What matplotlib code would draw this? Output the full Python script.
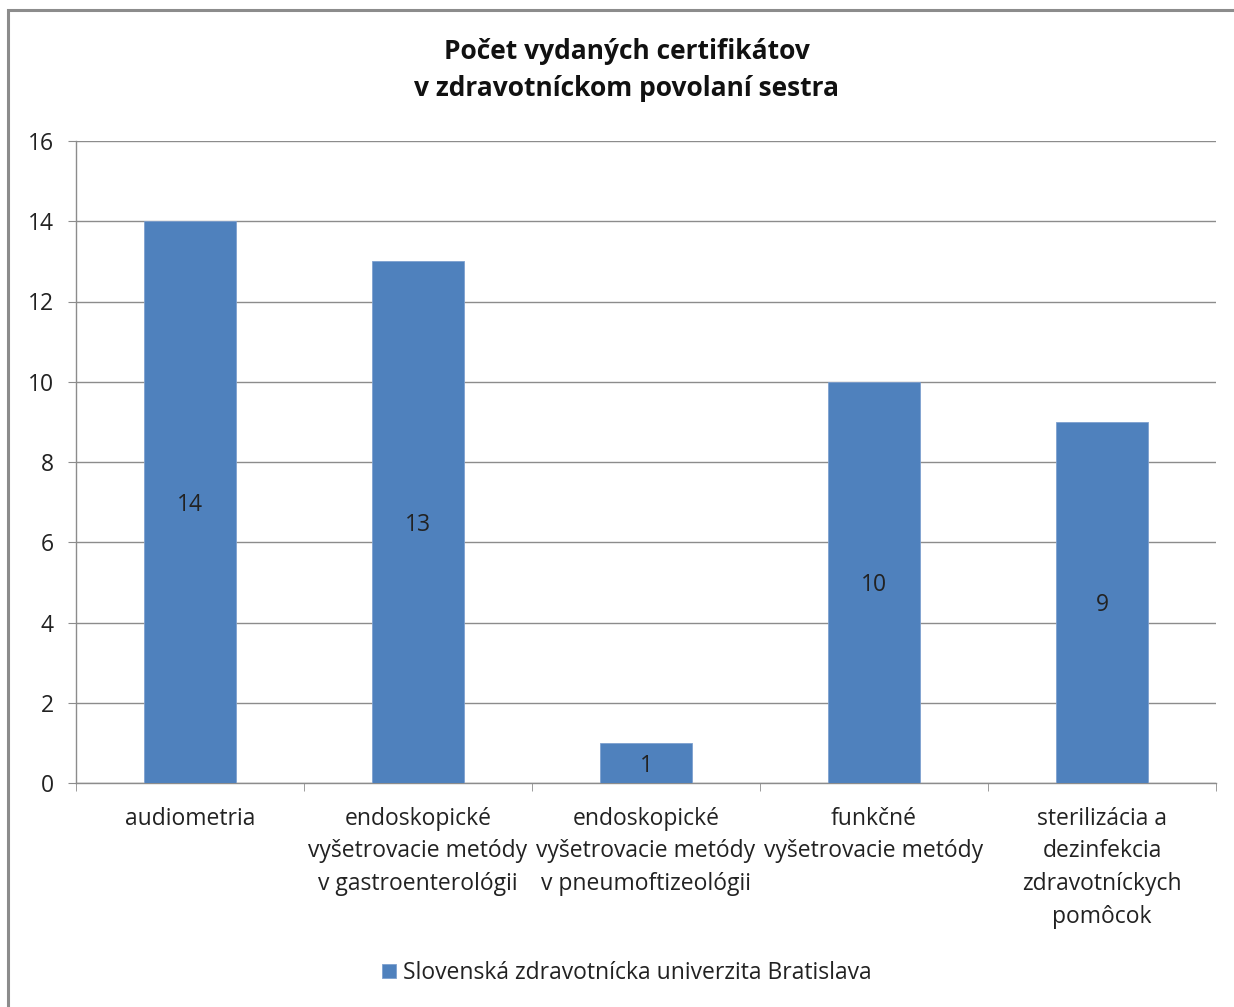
import matplotlib
matplotlib.use('Agg')
import matplotlib.pyplot as plt
from matplotlib.patches import Rectangle
import numpy as np

plt.rcParams['font.family'] = ['Open Sans', 'DejaVu Sans']

categories = ['audiometria',
              'endoskopické\nvyšetrovacie metódy\nv gastroenterológii',
              'endoskopické\nvyšetrovacie metódy\nv pneumoftizeológii',
              'funkčné\nvyšetrovacie metódy',
              'sterilizácia a\ndezinfekcia\nzdravotníckych\npomôcok']
values = [14, 13, 1, 10, 9]
series_name = 'Slovenská zdravotnícka univerzita Bratislava'
title = 'Počet vydaných certifikátov\nv zdravotníckom povolaní sestra'

W, H = 1234, 1007
fig = plt.figure(figsize=(W / 100, H / 100), dpi=100)
ax = fig.add_axes([76 / W, 1 - 783 / H, (1216 - 76) / W, (783 - 141) / H])

# outer chart frame (cut at right/bottom like the screenshot)
fig.patches.append(Rectangle((7.5 / W, -0.1), 1.2, 1 - 9.5 / H + 0.1, transform=fig.transFigure,
                             fill=False, edgecolor='#8c8c8c', linewidth=2.2))

x = np.arange(len(values))
bars = ax.bar(x, values, width=0.4, color='#4f81bd', edgecolor='#7ea0cf', linewidth=0.6,
              zorder=3, label=series_name)
for xi, v in zip(x, values):
    ax.text(xi, v / 2, str(v), ha='center', va='center_baseline', fontsize=16.5,
            color='#222222', zorder=4)

ax.set_xlim(-0.5, len(values) - 0.5)
ax.set_ylim(0, 16)
ax.set_yticks(range(0, 17, 2))
ax.yaxis.grid(True, color='#8c8c8c', linewidth=1.0, zorder=0)
ax.tick_params(axis='y', length=6, color='#8c8c8c', labelsize=16.5, pad=10, labelcolor='#222222')
ax.set_xticks(x)
ax.set_xticklabels(categories, fontsize=16.5, linespacing=1.48, color='#222222')
ax.tick_params(axis='x', length=0, pad=17)
ax.set_xticks(np.arange(-0.5, len(values)), minor=True)
ax.tick_params(axis='x', which='minor', length=6, color='#8c8c8c')
for s in ['top', 'right']:
    ax.spines[s].set_visible(False)
for s in ['left', 'bottom']:
    ax.spines[s].set_color('#8c8c8c')
    ax.spines[s].set_linewidth(1.0)

fig.text(627 / W, 1 - 70 / H, title, ha='center', va='center', fontsize=19,
         fontweight='bold', linespacing=1.52, color='#111111')

fig.legend(handles=[bars], labels=[series_name], loc='center', bbox_to_anchor=(627 / W, 1 - 973 / H),
           frameon=False, fontsize=16.5, handlelength=0.6, handleheight=0.6, handletextpad=0.3,
           labelcolor='#222222')

fig.savefig('out.png', dpi=100, facecolor='white')
